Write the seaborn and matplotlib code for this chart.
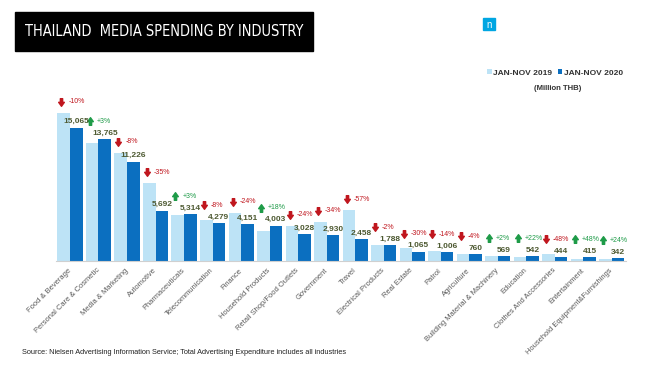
import matplotlib
matplotlib.use('Agg')
import matplotlib.pyplot as plt
import matplotlib.patches as mpatches
from matplotlib.path import Path
from matplotlib import font_manager
import pandas as pd
import seaborn as sns

# data (Million THB)
industries = [
    'Food & Beverage', 'Personal Care & Cosmetic', 'Media & Marketing', 'Automotive',
    'Pharmaceuticals', 'Telecommunication', 'Finance', 'Household Products',
    'Retail Shop/Food Outlets', 'Government', 'Travel', 'Electrical Products',
    'Real Estate', 'Patrol', 'Agriculture', 'Building Material & Machinery',
    'Education', 'Clothes And Accessories', 'Entertainment', 'Household Equipment&Furnishings',
]
spend_2019 = [16740, 13360, 12200, 8760, 5160, 4650, 5460, 3390, 3980, 4440,
              5720, 1820, 1520, 1170, 790, 560, 440, 850, 280, 275]
spend_2020 = [15065, 13765, 11226, 5692, 5314, 4279, 4151, 4003, 3028, 2930,
              2458, 1788, 1065, 1006, 760, 569, 542, 444, 415, 342]
pct_change = [-10, 3, -8, -35, 3, -8, -24, 18, -24, -34,
              -57, -2, -30, -14, -4, 2, 22, -48, 48, 24]
periods = ['JAN-NOV 2019', 'JAN-NOV 2020']

df = pd.DataFrame({'industry': industries, periods[0]: spend_2019, periods[1]: spend_2020})
df = df.melt(id_vars='industry', var_name='period', value_name='spend')

LIGHT = '#bde3f6'
DARK = '#0b6fc0'
LABEL = '#4e5a32'
RED = '#c0161e'
GREEN = '#1e9b48'

sns.set_theme(style='white')
plt.rcParams['font.family'] = ['Liberation Sans', 'DejaVu Sans']

# narrow font for the title if one is installed
narrow = [f.fname for f in font_manager.fontManager.ttflist
          if any(k in f.fname for k in ('Narrow', 'Condensed'))
          and not any(k in f.fname for k in ('Bold', 'Italic', 'Oblique', 'Light'))]
if narrow:
    title_prop = font_manager.FontProperties(fname=sorted(narrow)[0])
else:
    title_prop = font_manager.FontProperties(family='Liberation Sans')

fig = plt.figure(figsize=(6.48, 3.72), dpi=100)
ax = fig.add_axes([0.086, 0.298, 0.880, 0.441])

sns.barplot(data=df, x='industry', y='spend', hue='period', palette=[LIGHT, DARK],
            width=0.88, gap=0, saturation=1, linewidth=0, errorbar=None, ax=ax)

ymax = 18500
ax.set_ylim(0, ymax)
ax.set_xlim(-0.5, len(industries) - 0.5)
upp = ymax / (0.441 * 372)  # data units per pixel

# block arrow markers
down_verts = [(-0.3, 1), (0.3, 1), (0.3, 0.05), (0.75, 0.05), (0, -1), (-0.75, 0.05), (-0.3, 0.05), (-0.3, 1)]
down_arrow = Path(down_verts, [Path.MOVETO] + [Path.LINETO] * 6 + [Path.CLOSEPOLY])
up_arrow = Path([(x, -y) for x, y in down_verts], [Path.MOVETO] + [Path.LINETO] * 6 + [Path.CLOSEPOLY])

for i, (v19, v20, p) in enumerate(zip(spend_2019, spend_2020, pct_change)):
    ax.text(i + 0.22, v20 + 2.5 * upp, f'{v20:,}', ha='center', va='bottom',
            fontsize=6, fontweight='bold', color=LABEL)
    ay = max(v20 + 18 * upp, v19 + 11 * upp)
    c = RED if p < 0 else GREEN
    ax.plot(i - 0.3, ay, marker=down_arrow if p < 0 else up_arrow, ms=5.5,
            color=c, mec=c, clip_on=False)
    ax.text(i - 0.06, ay, f'{p:+d}%', ha='left', va='center', fontsize=5, color=c)

ax.set_xlabel('')
ax.set_ylabel('')
ax.set_yticks([])
ax.set_xticks(range(len(industries)))
ax.set_xticklabels(industries, rotation=45, ha='right', va='center',
                   rotation_mode='anchor', fontsize=5.4, color='#595959')
ax.tick_params(axis='x', length=0, pad=6)
for s in ['top', 'right', 'left']:
    ax.spines[s].set_visible(False)
ax.spines['bottom'].set_color('#d0d0d0')
ax.spines['bottom'].set_linewidth(0.8)

# legend
sns.move_legend(ax, 'center left', bbox_to_anchor=(487 / 648, 1 - 73 / 372),
                bbox_transform=fig.transFigure, ncol=2, frameon=False, title=None,
                fontsize=6, handlelength=0.55, handleheight=0.55, handletextpad=0.15,
                columnspacing=0.7, borderpad=0, borderaxespad=0)
for t in ax.get_legend().get_texts():
    t.set_fontweight('bold')
    t.set_color('#333333')
fig.text(558 / 648, 1 - 88 / 372, '(Million THB)', ha='center', va='center',
         fontsize=5.6, fontweight='bold', color='#333333')

# title box
fig.patches.append(mpatches.Rectangle((15 / 648, 1 - 51 / 372), 298 / 648, 39 / 372,
                                      transform=fig.transFigure, color='black', zorder=0))
title = fig.text(164 / 648, 1 - 31.5 / 372, 'THAILAND  MEDIA SPENDING BY INDUSTRY',
                 ha='center', va='center', color='white', fontproperties=title_prop)
title.set_fontsize(12)
fig.canvas.draw()
w = title.get_window_extent().width
title.set_fontsize(min(12 * 280 / w, 16))

# logo
fig.patches.append(mpatches.Rectangle((483 / 648, 1 - 30 / 372), 12 / 648, 12 / 372,
                                      transform=fig.transFigure, color='#00a6e2', zorder=0))
fig.text(489 / 648, 1 - 24.5 / 372, 'n', ha='center', va='center', color='white', fontsize=7)

fig.text(22 / 648, 1 - 353 / 372,
         'Source: Nielsen Advertising Information Service; Total Advertising Expenditure includes all industries',
         ha='left', va='center', fontsize=5.3, color='#222222')

fig.savefig('out.png', dpi=100)
